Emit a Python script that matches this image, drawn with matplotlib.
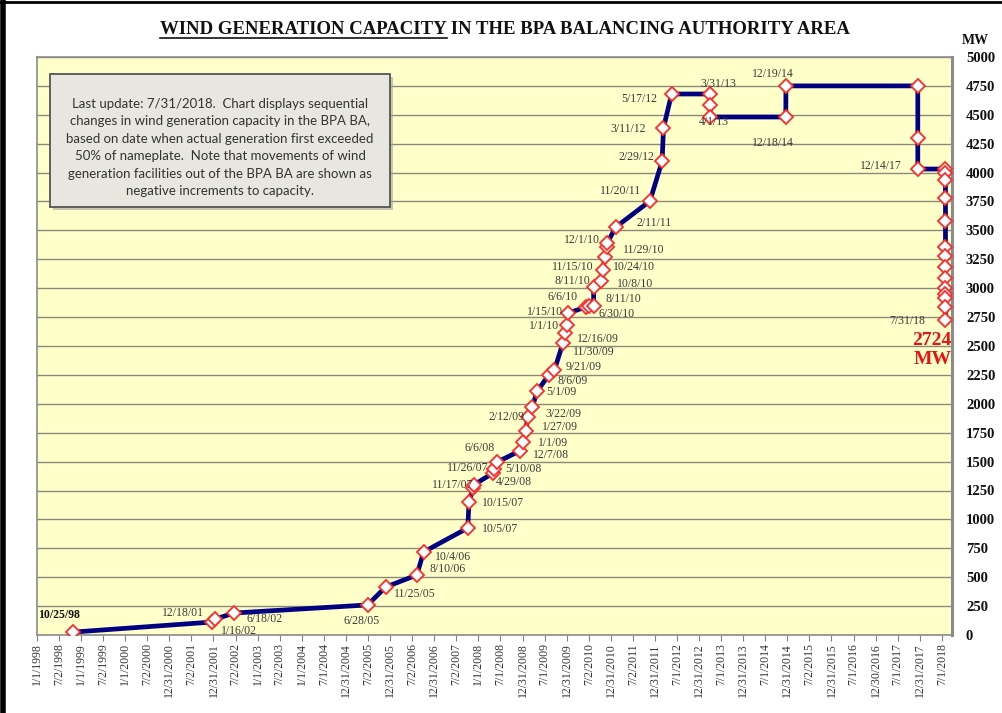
import matplotlib
matplotlib.use("Agg")
import matplotlib.pyplot as plt
import matplotlib.dates as mdates
from matplotlib.lines import Line2D
from matplotlib.patches import Rectangle
from datetime import datetime

# ---------------- data ----------------
dates = [
    "1998-10-25", "2001-12-18", "2002-01-16", "2002-06-18", "2005-06-28", "2005-11-25",
    "2006-08-10", "2006-10-04", "2007-10-05", "2007-10-15", "2007-11-17", "2007-11-26",
    "2008-04-29", "2008-05-10", "2008-06-06", "2008-12-07", "2009-01-01", "2009-01-27",
    "2009-02-12", "2009-03-22", "2009-05-01", "2009-08-06", "2009-09-21", "2009-11-30",
    "2009-12-16", "2010-01-01", "2010-01-15", "2010-06-06", "2010-06-30", "2010-08-11",
    "2010-08-11", "2010-10-08", "2010-10-24", "2010-11-15", "2010-11-29", "2010-12-01",
    "2011-02-11", "2011-11-20", "2012-02-29", "2012-03-11", "2012-05-17", "2013-03-31",
    "2013-04-01", "2013-04-01", "2014-12-18", "2014-12-19", "2017-12-14", "2017-12-14",
    "2017-12-14", "2018-07-31", "2018-07-31", "2018-07-31", "2018-07-31", "2018-07-31",
    "2018-07-31", "2018-07-31", "2018-07-31", "2018-07-31", "2018-07-31", "2018-07-31",
    "2018-07-31", "2018-07-31", "2018-07-31",
]
mw = [
    25, 112, 138, 190, 260, 415,
    519, 718, 926, 1150, 1270, 1300,
    1400, 1436, 1497, 1592, 1670, 1765,
    1886, 1972, 2110, 2249, 2292, 2526,
    2612, 2682, 2785, 2837, 2845, 2850,
    3010, 3062, 3157, 3270, 3360, 3390,
    3529, 3754, 4100, 4386, 4680, 4680,
    4585, 4481, 4481, 4750, 4750, 4300,
    4031, 4031, 4000, 3936, 3780, 3581,
    3356, 3275, 3180, 3090, 3005, 2950,
    2915, 2837, 2724,
]
point_labels = [
    "10/25/98", "12/18/01", "1/16/02", "6/18/02", "6/28/05", "11/25/05",
    "8/10/06", "10/4/06", "10/5/07", "10/15/07", "11/17/07", "11/26/07",
    "4/29/08", "5/10/08", "6/6/08", "12/7/08", "1/1/09", "1/27/09",
    "2/12/09", "3/22/09", "5/1/09", "8/6/09", "9/21/09", "11/30/09",
    "12/16/09", "1/1/10", "1/15/10", "6/6/10", "6/30/10", "8/11/10",
    "8/11/10", "10/8/10", "10/24/10", "11/15/10", "11/29/10", "12/1/10",
    "2/11/11", "11/20/11", "2/29/12", "3/11/12", "5/17/12", "3/31/13",
    "", "4/1/13", "12/18/14", "12/19/14", "", "",
    "12/14/17", "", "", "", "", "",
    "", "", "", "", "", "",
    "", "", "7/31/18",
]
tick_dates = [
    "1998-01-01", "1998-07-02", "1999-01-01", "1999-07-02", "2000-01-01", "2000-07-02",
    "2000-12-31", "2001-07-02", "2001-12-31", "2002-07-02", "2003-01-01", "2003-07-02",
    "2004-01-01", "2004-07-01", "2004-12-31", "2005-07-02", "2005-12-31", "2006-07-02",
    "2006-12-31", "2007-07-02", "2008-01-01", "2008-07-01", "2008-12-31", "2009-07-01",
    "2009-12-31", "2010-07-02", "2010-12-31", "2011-07-02", "2011-12-31", "2012-07-01",
    "2012-12-31", "2013-07-01", "2013-12-31", "2014-07-01", "2014-12-31", "2015-07-02",
    "2015-12-31", "2016-07-01", "2016-12-30", "2017-07-01", "2017-12-31", "2018-07-01",
]
tick_labels = [
    "1/1/1998", "7/2/1998", "1/1/1999", "7/2/1999", "1/1/2000", "7/2/2000",
    "12/31/2000", "7/2/2001", "12/31/2001", "7/2/2002", "1/1/2003", "7/2/2003",
    "1/1/2004", "7/1/2004", "12/31/2004", "7/2/2005", "12/31/2005", "7/2/2006",
    "12/31/2006", "7/2/2007", "1/1/2008", "7/1/2008", "12/31/2008", "7/1/2009",
    "12/31/2009", "7/2/2010", "12/31/2010", "7/2/2011", "12/31/2011", "7/1/2012",
    "12/31/2012", "7/1/2013", "12/31/2013", "7/1/2014", "12/31/2014", "7/2/2015",
    "12/31/2015", "7/1/2016", "12/30/2016", "7/1/2017", "12/31/2017", "7/1/2018",
]
y_ticks = list(range(0, 5001, 250))
final_value_text = "2724"
title = "WIND GENERATION CAPACITY IN THE BPA BALANCING AUTHORITY AREA"
title_underlined = "WIND GENERATION CAPACITY"
note = ("Last update: 7/31/2018.  Chart displays sequential\n"
        "changes in wind generation capacity in the BPA BA,\n"
        "based on date when actual generation first exceeded\n"
        "50% of nameplate.  Note that movements of wind\n"
        "generation facilities out of the BPA BA are shown as\n"
        "negative increments to capacity.")

# label offsets (pixels) relative to each point -- layout only
label_offsets = [
    (-14, 17), (-29, 9), (24, -12), (31, -6), (-6, -16), (29, -7),
    (31, 6), (29, -5), (32, -1), (34, -1), (-20, 3), (-6, 17),
    (21, -9), (29, 0), (-18, 14), (31, -4), (30, -1), (34, 4),
    (-21, 0), (31, -7), (24, -1), (24, -6), (29, 3), (31, -9),
    (33, -6), (-23, -1), (-23, 1), (-23, 10), (28, -8), (30, 7),
    (-21, 6), (34, -3), (31, 3), (-32, -10), (37, -3), (-25, 3),
    (38, 4), (-29, 10), (-26, 4), (-35, -1), (-32, -5), (8, 10),
    (0, 0), (4, -5), (-13, -26), (-13, 12), (0, 0), (0, 0),
    (-37, 3), (0, 0), (0, 0), (0, 0), (0, 0), (0, 0),
    (0, 0), (0, 0), (0, 0), (0, 0), (0, 0), (0, 0),
    (0, 0), (0, 0), (-38, -1),
]

W, H = 1003, 713
SERIF = ["Liberation Serif", "DejaVu Serif"]

def dnum(s):
    return mdates.date2num(datetime.strptime(s, "%Y-%m-%d"))

fig = plt.figure(figsize=(W / 100, H / 100), dpi=100)
fig.patch.set_facecolor("white")

ax = fig.add_axes([37 / W, 1 - 635 / H, (952 - 37) / W, (635 - 57) / H])
ax.set_facecolor("#FFFFC9")

x = [dnum(d) for d in dates]
ax.plot(x, mw, color="#000080", lw=3.4, solid_joinstyle="round", zorder=3)
ax.plot(x, mw, linestyle="none", marker="D", ms=7, mfc="white",
        mec="#ff2a2a", mew=1.3, zorder=4)

ax.set_xlim(dnum("1998-01-01"), dnum("2018-09-23"))
ax.set_ylim(0, 5000)

ax.set_xticks([dnum(d) for d in tick_dates])
ax.set_xticklabels(tick_labels, rotation=90, family=SERIF, fontsize=8.5, color="#333333")
ax.tick_params(axis="x", length=4, color="#808080", direction="out", pad=2)

ax.yaxis.tick_right()
ax.set_yticks(y_ticks)
ax.set_yticklabels([str(v) for v in y_ticks], family=SERIF, fontsize=10.5,
                   fontweight="bold", color="#111111")
ax.tick_params(axis="y", length=0, pad=10)
ax.grid(axis="y", color="#8a8a78", lw=1.0)
ax.set_axisbelow(True)
for side, sp in ax.spines.items():
    sp.set_color("#8c8c8c")
    sp.set_linewidth(1.2)
ax.spines["right"].set_linewidth(2.2)

for xi, yi, lab, off in zip(x, mw, point_labels, label_offsets):
    if not lab:
        continue
    bold = lab == "10/25/98"
    ax.annotate(lab, (xi, yi), xytext=off, textcoords="offset pixels",
                ha="center", va="center", family=SERIF, fontsize=8.5,
                color="#111111" if bold else "#3a3a3a",
                fontweight="bold" if bold else "normal", zorder=5)

ax.annotate(final_value_text, (x[-1], mw[-1]), xytext=(-14, -20), textcoords="offset pixels",
            ha="center", va="center", family=SERIF, fontsize=14, fontweight="bold",
            color="#ee1111", zorder=5)
ax.annotate("MW", (x[-1], mw[-1]), xytext=(-13, -39), textcoords="offset pixels",
            ha="center", va="center", family=SERIF, fontsize=14, fontweight="bold",
            color="#ee1111", zorder=5)

fig.text(975 / W, 1 - 41 / H, "MW", ha="center", va="center", family=SERIF,
         fontsize=10, fontweight="bold", color="#111111")

# title with partial underline
TFS = 13.5
t = fig.text(505 / W, 1 - 30 / H, title, ha="center", va="center", family=SERIF,
             fontsize=TFS, fontweight="bold", color="#111111")
renderer = fig.canvas.get_renderer()
bb = t.get_window_extent(renderer)
tmp = fig.text(0, 0, title_underlined, family=SERIF, fontsize=TFS, fontweight="bold")
wpart = tmp.get_window_extent(renderer).width
tmp.remove()
uy = (bb.y0 + 1) / H
fig.add_artist(Line2D([bb.x0 / W, (bb.x0 + wpart) / W], [uy, uy],
                      transform=fig.transFigure, color="#111111", lw=1.2))

# note box with shadow
fig.add_artist(Rectangle((53 / W, 1 - 210 / H), 340 / W, 133 / H, transform=fig.transFigure,
                         facecolor="#a0a0a0", edgecolor="none", alpha=0.6, zorder=6))
fig.add_artist(Rectangle((50 / W, 1 - 207 / H), 340 / W, 133 / H, transform=fig.transFigure,
                         facecolor="#E8E7DF", edgecolor="#555555", lw=1.3, zorder=7))
fig.text(220 / W, 1 - 147.5 / H, note, ha="center", va="center",
         family=["Lato", "DejaVu Sans"], fontsize=9.5, color="#333333",
         linespacing=1.55, zorder=8)

# outer frame (left and top)
fig.add_artist(Line2D([3 / W, 3 / W], [0, 1], transform=fig.transFigure, color="black", lw=4))
fig.add_artist(Line2D([0, 1], [1 - 1.5 / H, 1 - 1.5 / H], transform=fig.transFigure,
                      color="black", lw=2))

fig.savefig("out.png", dpi=100)
